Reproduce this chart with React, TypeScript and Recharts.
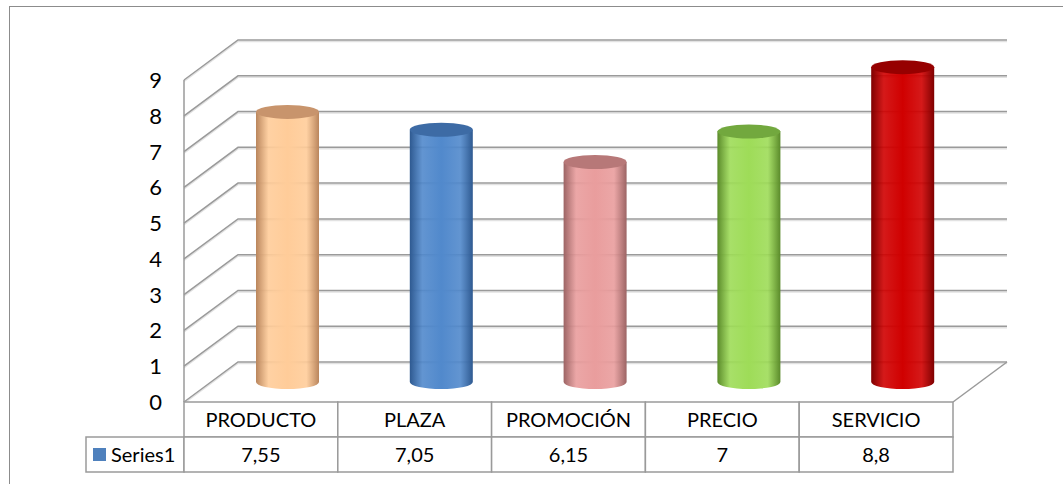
import { ComposedChart, Bar, XAxis, YAxis, CartesianGrid } from 'recharts'

// datos del gráfico
const categories = ['PRODUCTO', 'PLAZA', 'PROMOCIÓN', 'PRECIO', 'SERVICIO']
const values = [7.55, 7.05, 6.15, 7, 8.8]
const yTicks = [0, 1, 2, 3, 4, 5, 6, 7, 8, 9]
const seriesName = 'Series1'

// colores: [borde oscuro, centro claro, tapa]
const COLORS = [
  ['#B9855C', '#FFCC99', '#C8946C'],
  ['#2E5990', '#5189CC', '#3D6BA5'],
  ['#9C6464', '#E99D9D', '#B77878'],
  ['#5A8A2A', '#9EDC58', '#72A83E'],
  ['#7E0000', '#D00000', '#960000'],
]

const W = 1063
const H = 484
const PLOT_LEFT = 184
const PLOT_RIGHT = 953
const PLOT_TOP = 80
const PLOT_BOTTOM = 402
const DX = 54 // profundidad 3D
const DY = 40
const ROW_H = 35
const GRID = '#9a9a9a'
const FONT = 'Lato, Carlito, Calibri, sans-serif'

const data = categories.map((name, i) => ({ name, value: values[i] }))
const cellW = (PLOT_RIGHT - PLOT_LEFT) / categories.length

const fmt = (v: number) => String(v).replace('.', ',')

function GridLine(props: any) {
  const { x1, y1, x2, index } = props
  const bx = x1 + DX
  const by = y1 - DY
  return (
    <g key={`g-${index}`}>
      <path d={`M${x1},${y1 + 1.5} L${bx},${by + 1.5} L${x2 + DX},${by + 1.5}`} stroke="#e2e2e2" strokeWidth={1.5} fill="none" />
      <path d={`M${x1},${y1} L${bx},${by} L${x2 + DX},${by}`} stroke={GRID} strokeWidth={1.5} fill="none" />
      {Math.abs(y1 - PLOT_BOTTOM) < 1 && (
        <path d={`M${x2},${y1} L${x2 + DX},${by}`} stroke={GRID} strokeWidth={1.5} fill="none" />
      )}
    </g>
  )
}

function Cylinder(props: any) {
  const { x, y, width, height, index } = props
  const rx = width / 2
  const ry = 7
  const cx = x + rx + DX / 2
  const top = y - DY / 2
  const bottom = y + height - DY / 2
  const c = COLORS[index % COLORS.length]
  return (
    <g>
      <path
        d={`M${cx - rx},${top} L${cx - rx},${bottom} A${rx},${ry} 0 0 0 ${cx + rx},${bottom} L${cx + rx},${top} Z`}
        fill={`url(#cyl-${index})`}
      />
      <ellipse cx={cx} cy={top} rx={rx} ry={ry} fill={c[2]} />
    </g>
  )
}

function TableTick(props: any) {
  const { x, payload } = props
  const i = payload.index
  const left = x - cellW / 2
  return (
    <g>
      <rect x={left} y={PLOT_BOTTOM} width={cellW} height={ROW_H} fill="#fff" stroke={GRID} strokeWidth={1.5} />
      <rect x={left} y={PLOT_BOTTOM + ROW_H} width={cellW} height={ROW_H} fill="#fff" stroke={GRID} strokeWidth={1.5} />
      <text x={x} y={PLOT_BOTTOM + ROW_H / 2 + 7} textAnchor="middle" fontSize={20} fontFamily={FONT} fill="#000">
        {payload.value}
      </text>
      <text x={x} y={PLOT_BOTTOM + ROW_H * 1.5 + 7} textAnchor="middle" fontSize={20} fontFamily={FONT} fill="#000">
        {fmt(values[i])}
      </text>
    </g>
  )
}

function YTick(props: any) {
  const { y, payload } = props
  return (
    <text x={162} y={y + 8} textAnchor="end" fontSize={22} fontFamily={FONT} fill="#000">
      {payload.value}
    </text>
  )
}

export default function App() {
  return (
    <div style={{ position: 'absolute', left: 0, top: 0, width: W, height: H, overflow: 'hidden', background: '#fff' }}>
      <div style={{ position: 'absolute', left: 9, top: 6, width: W + 20, height: H + 20, border: '1px solid #8c8c8c' }} />
      <div style={{ position: 'absolute', left: 0, top: 0 }}>
        <ComposedChart
          width={W}
          height={H}
          data={data}
          margin={{ top: PLOT_TOP, right: W - PLOT_RIGHT, bottom: H - PLOT_BOTTOM - 70, left: 0 }}
        >
          <defs>
            {COLORS.map((c, i) => (
              <linearGradient key={i} id={`cyl-${i}`} x1="0" y1="0" x2="1" y2="0">
                <stop offset="0%" stopColor={c[0]} />
                <stop offset="20%" stopColor={c[1]} stopOpacity={0.9} />
                <stop offset="50%" stopColor={c[1]} />
                <stop offset="80%" stopColor={c[1]} stopOpacity={0.9} />
                <stop offset="100%" stopColor={c[0]} />
              </linearGradient>
            ))}
          </defs>
          <CartesianGrid vertical={false} horizontal={(p: any) => <GridLine {...p} />} />
          <YAxis
            width={PLOT_LEFT}
            domain={[0, 9]}
            ticks={yTicks}
            interval={0}
            tickLine={false}
            axisLine={{ stroke: GRID, strokeWidth: 1.5 }}
            tick={(p: any) => <YTick {...p} />}
          />
          <XAxis
            dataKey="name"
            height={70}
            interval={0}
            tickLine={false}
            axisLine={false}
            tick={(p: any) => <TableTick {...p} />}
          />
          <Bar dataKey="value" barSize={63} isAnimationActive={false} shape={(p: any) => <Cylinder {...p} />} />
          {/* celda de la serie */}
          <rect x={86} y={PLOT_BOTTOM + ROW_H} width={PLOT_LEFT - 86} height={ROW_H} fill="#fff" stroke={GRID} strokeWidth={1.5} />
          <rect x={93} y={PLOT_BOTTOM + ROW_H + 11} width={13} height={13} fill="#4F81BD" />
          <text x={111} y={PLOT_BOTTOM + ROW_H * 1.5 + 7} fontSize={20} fontFamily={FONT} fill="#000">
            {seriesName}
          </text>
        </ComposedChart>
      </div>
    </div>
  )
}
